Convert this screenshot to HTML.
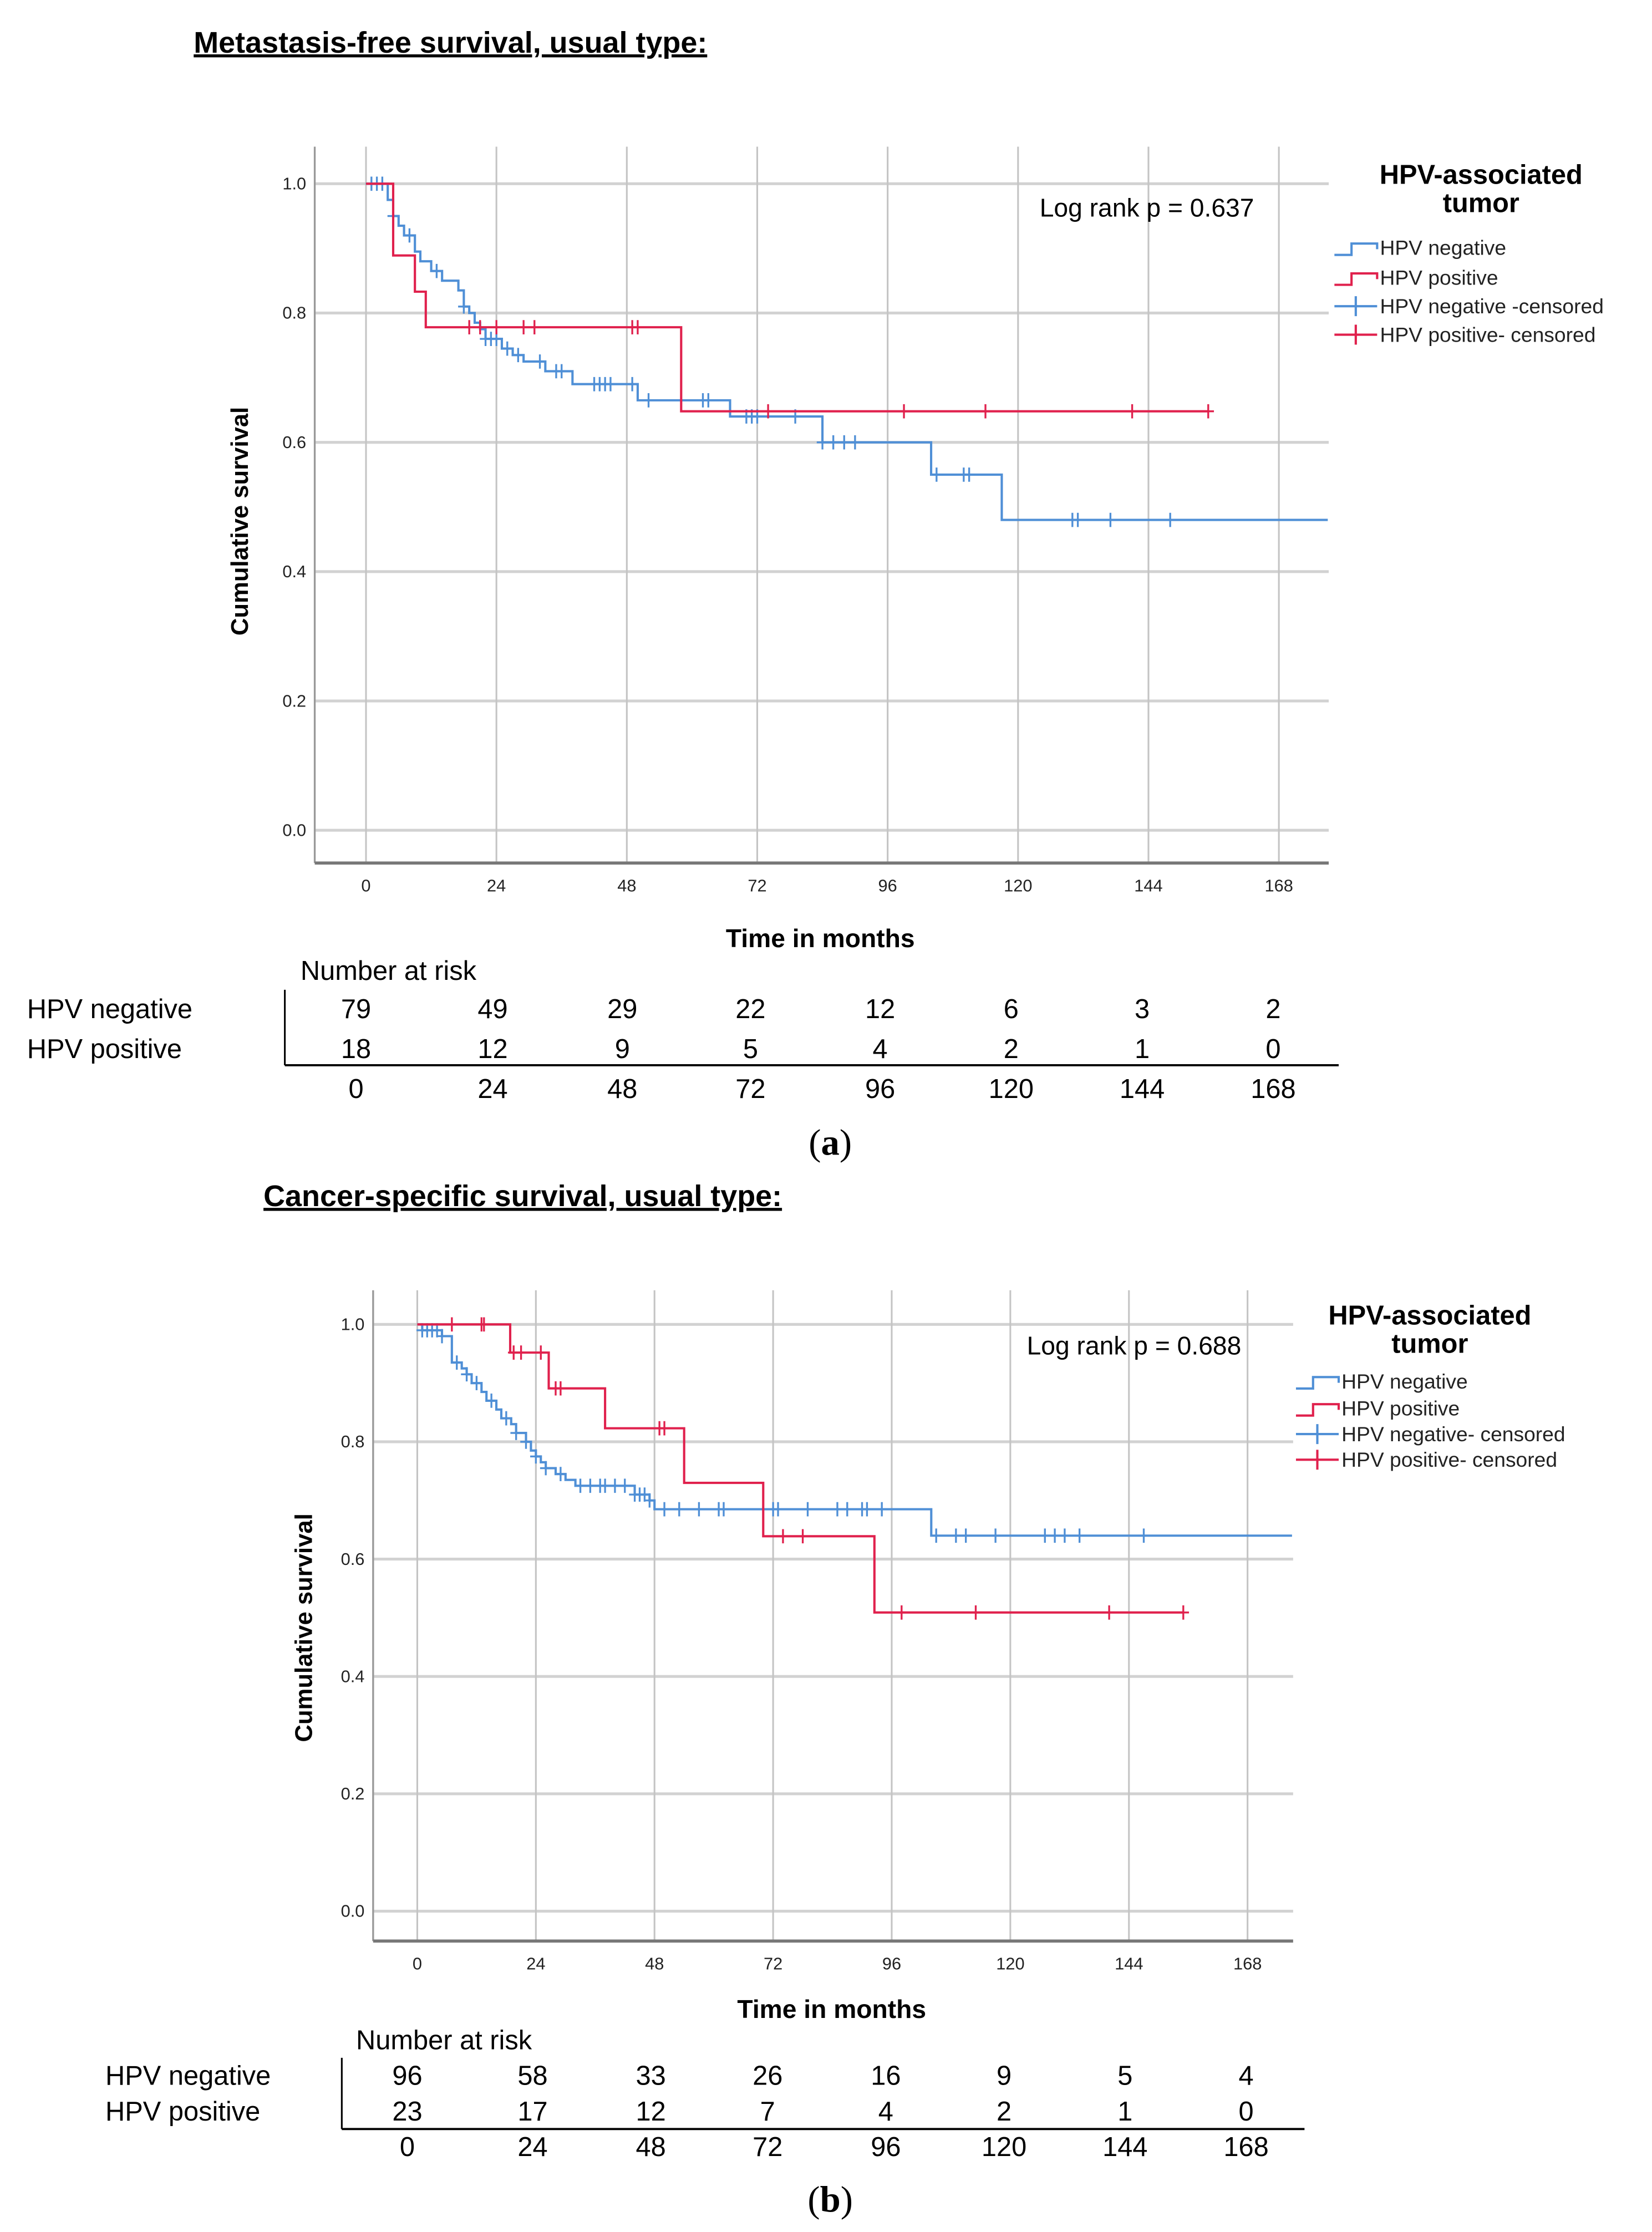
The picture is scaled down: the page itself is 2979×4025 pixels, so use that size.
<!DOCTYPE html>
<html><head><meta charset="utf-8"><style>
html,body{margin:0;padding:0;background:#fff}
svg{display:block}
text{font-family:"Liberation Sans",sans-serif}
.n{font-family:"Liberation Sans Narrow","Liberation Sans",sans-serif}
</style></head><body>
<svg id="fig" width="2979" height="4025" viewBox="0 0 1160 1567.3" xmlns="http://www.w3.org/2000/svg">
<g id="chartA"></g>
<g id="chartB"></g>
</svg>
<script>
// ---- Chart A data ----
const xTicks = [0,24,48,72,96,120,144,168];
const yTicks = [0.0,0.2,0.4,0.6,0.8,1.0];
const aNegSteps = [[0,1.0],[4,0.975],[5,0.95],[6,0.935],[7,0.92],[9,0.895],[10,0.88],[12,0.865],[14,0.85],[17,0.835],[18,0.81],[19,0.80],[20,0.785],[21,0.775],[22,0.76],[25,0.745],[27,0.735],[29,0.725],[33,0.71],[38,0.69],[50,0.665],[67,0.64],[84,0.60],[104,0.55],[117,0.48]];
const aNegCens = [1,2,3,5,8,13,18,22,23,24,26,28,32,35,36,42,43,44,45,49,52,62,63,70,71,72,79,84,86,88,90,105,110,111,130,131,137,148];
const aPosSteps = [[0,1.0],[5,0.889],[9,0.833],[11,0.778],[58,0.648]];
const aPosCens = [19,21,24,29,31,49,50,74,99,114,141,155];
const aNegEnd = 177, aPosEnd = 155;
const aRiskNeg = [79,49,29,22,12,6,3,2];
const aRiskPos = [18,12,9,5,4,2,1,0];
// ---- Chart B data ----
const bNegSteps = [[0,1.0],[1,0.99],[5,0.98],[7,0.935],[9,0.925],[10,0.915],[11,0.90],[13,0.885],[14,0.87],[16,0.855],[17,0.84],[19,0.83],[20,0.815],[22,0.80],[23,0.785],[24,0.775],[25,0.765],[26,0.755],[28,0.745],[30,0.735],[32,0.725],[44,0.71],[47,0.70],[48,0.685],[104,0.64]];
const bNegCens = [1,2,3,4,5,8,10,12,15,18,20,22,24,26,29,33,35,37,38,40,42,44,45,46,47,50,53,57,61,62,72,73,79,85,87,90,91,94,105,109,111,117,127,129,131,134,147];
const bPosSteps = [[0,1.0],[18.8,0.952],[26.6,0.891],[38,0.823],[54,0.73],[70,0.639],[92.5,0.509]];
const bPosCens = [7,13,13.5,19.5,21,25,28,29,49,50,74,78,98,113,140,155];
const bNegEnd = 177, bPosEnd = 155;
const bRiskNeg = [96,58,33,26,16,9,5,4];
const bRiskPos = [23,17,12,7,4,2,1,0];

const NS="http://www.w3.org/2000/svg";
const BLUE="#4f8fd6", RED="#e0214d";
function mk(parent,tag,attrs,txt){const e=document.createElementNS(NS,tag);for(const k in attrs)e.setAttribute(k,attrs[k]);if(txt!==undefined)e.textContent=txt;parent.appendChild(e);return e;}

function draw(g,c){
  const sx=m=>c.x0+(c.x168-c.x0)*m/168;
  const sy=v=>c.y0+(c.y1-c.y0)*v;
  let t=mk(g,'text',{x:c.titleX,y:c.titleY,'font-size':21,'font-weight':'bold','text-decoration':'underline'},c.title);
  
  
  yTicks.forEach(v=>{
    let l=mk(g,'line',{x1:c.left,x2:c.right,y1:sy(v),y2:sy(v),stroke:'#d2d2d2','stroke-width':2});
    
    
    let tx=mk(g,'text',{class:'n',x:c.left-6,y:sy(v)+4,'font-size':12,'text-anchor':'end',fill:'#222'},v.toFixed(1));
    
    
  });
  xTicks.forEach(m=>{
    let l=mk(g,'line',{x1:sx(m),x2:sx(m),y1:c.top,y2:c.bottom,stroke:'#c4c4c4','stroke-width':1.2});
    
    
    let tx=mk(g,'text',{class:'n',x:sx(m),y:c.bottom+20,'font-size':12,'text-anchor':'middle',fill:'#222'},m);
    
    
  });
  let ax=mk(g,'line',{x1:c.left,x2:c.left,y1:c.top,y2:c.bottom,stroke:'#999','stroke-width':1.3});
  
  
  let bx=mk(g,'line',{x1:c.left,x2:c.right,y1:c.bottom,y2:c.bottom,stroke:'#777','stroke-width':2.2});
  
  
  function curve(steps,end,cens,col,name){
    let d='M'+sx(steps[0][0])+','+sy(steps[0][1]);
    for(let i=1;i<steps.length;i++){d+=' H'+sx(steps[i][0])+' V'+sy(steps[i][1]);}
    d+=' H'+sx(end);
    let p=mk(g,'path',{d:d,fill:'none',stroke:col,'stroke-width':1.6});
    
    
    cens.forEach(m=>{
      let v=steps[0][1];for(const s of steps){if(s[0]<=m)v=s[1];}
      let ct=mk(g,'path',{d:'M'+(sx(m)-4)+','+sy(v)+' h8 M'+sx(m)+','+(sy(v)-5)+' v10',stroke:col,'stroke-width':1.3,fill:'none'});
      
      
    });
  }
  curve(c.negSteps,c.negEnd,c.negCens,BLUE,'hpv-negative');
  curve(c.posSteps,c.posEnd,c.posCens,RED,'hpv-positive');
  let lr=mk(g,'text',{x:c.lrX,y:c.lrY,'font-size':18},c.lr);
  
  
  let xt=mk(g,'text',{x:c.xtX,y:c.xtY,'font-size':18,'font-weight':'bold','text-anchor':'middle'},'Time in months');
  
  
  let yt=mk(g,'text',{x:0,y:0,'font-size':17,'font-weight':'bold','text-anchor':'middle',transform:'translate('+c.ytX+','+c.ytY+') rotate(-90)'},'Cumulative survival');
  
  
  let lt1=mk(g,'text',{x:c.legC,y:c.legY,'font-size':19,'font-weight':'bold','text-anchor':'middle'},'HPV-associated');
  
  
  let lt2=mk(g,'text',{x:c.legC,y:c.legY+20,'font-size':19,'font-weight':'bold','text-anchor':'middle'},'tumor');
  
  
  const entries=[[c.legNames[0],BLUE,'step'],[c.legNames[1],RED,'step'],[c.legNames[2],BLUE,'cross'],[c.legNames[3],RED,'cross']];
  entries.forEach((e,i)=>{
    const y=c.legEY[i];const x=c.legX;
    let d=e[2]==='step'?'M'+x+','+(y+1)+' h12 v-8 h18 v4':'M'+x+','+(y-4)+' h30 M'+(x+15)+','+(y-11)+' v14';
    let ic=mk(g,'path',{d:d,stroke:e[1],'stroke-width':1.6,fill:'none'});
    
    
    let tx=mk(g,'text',{class:'n',x:x+32,y:y+1,'font-size':14.5,fill:'#222'},e[0]);
    
    
  });
  let nr=mk(g,'text',{x:c.nrX,y:c.nrY,'font-size':19},'Number at risk');
  
  
  let r1=mk(g,'text',{x:c.rlX,y:c.rows[0],'font-size':19},'HPV negative');
  
  
  let r2=mk(g,'text',{x:c.rlX,y:c.rows[1],'font-size':19},'HPV positive');
  
  
  let vl=mk(g,'line',{x1:c.tvX,x2:c.tvX,y1:c.tvY1,y2:c.thY,stroke:'#000','stroke-width':1.2});
  
  
  let hl=mk(g,'line',{x1:c.tvX,x2:c.thX2,y1:c.thY,y2:c.thY,stroke:'#000','stroke-width':1.5});
  
  
  c.cols.forEach((x,i)=>{
    let a=mk(g,'text',{x:x,y:c.rows[0],'font-size':19,'text-anchor':'middle'},c.riskNeg[i]);
    
    
    let b=mk(g,'text',{x:x,y:c.rows[1],'font-size':19,'text-anchor':'middle'},c.riskPos[i]);
    
    
    let d=mk(g,'text',{x:x,y:c.rows[2],'font-size':19,'text-anchor':'middle'},xTicks[i]);
    
    
  });
  let pl=mk(g,'text',{x:583,y:c.panelY,'font-size':26,'text-anchor':'middle'},'');
  
  
  pl.style.fontFamily='"Liberation Serif",serif';
  mk(pl,'tspan',{},'(');mk(pl,'tspan',{'font-weight':'bold'},c.panel);mk(pl,'tspan',{},')');
}

draw(document.getElementById('chartA'),{
  title:'Metastasis-free survival, usual type:',titleX:136,titleY:37,
  x0:257,x168:898,y0:583,y1:129,left:221,right:933,top:103,bottom:606,
  negSteps:aNegSteps,negCens:aNegCens,negEnd:aNegEnd,posSteps:aPosSteps,posCens:aPosCens,posEnd:aPosEnd,
  lr:'Log rank p = 0.637',lrX:730,lrY:152,xtX:576,xtY:665,ytX:174,ytY:366,
  legC:1040,legY:129,legX:937,legEY:[178,199,219,239],
  legNames:['HPV negative','HPV positive','HPV negative -censored','HPV positive- censored'],
  nrX:211,nrY:688,rlX:19,rows:[715,743,771],cols:[250,346,437,527,618,710,802,894],
  tvX:200,tvY1:695,thY:748,thX2:940,riskNeg:aRiskNeg,riskPos:aRiskPos,panel:'a',panelY:811
});
draw(document.getElementById('chartB'),{
  title:'Cancer-specific survival, usual type:',titleX:185,titleY:847,
  x0:293,x168:876,y0:1342,y1:930,left:262,right:908,top:906,bottom:1363,
  negSteps:bNegSteps,negCens:bNegCens,negEnd:bNegEnd,posSteps:bPosSteps,posCens:bPosCens,posEnd:bPosEnd,
  lr:'Log rank p = 0.688',lrX:721,lrY:951,xtX:584,xtY:1417,ytX:219,ytY:1143,
  legC:1004,legY:930,legX:910,legEY:[974,993,1011,1029],
  legNames:['HPV negative','HPV positive','HPV negative- censored','HPV positive- censored'],
  nrX:250,nrY:1439,rlX:74,rows:[1464,1489,1514],cols:[286,374,457,539,622,705,790,875],
  tvX:240,tvY1:1445,thY:1495,thX2:916,riskNeg:bRiskNeg,riskPos:bRiskPos,panel:'b',panelY:1553
});
</script>
</body></html>
